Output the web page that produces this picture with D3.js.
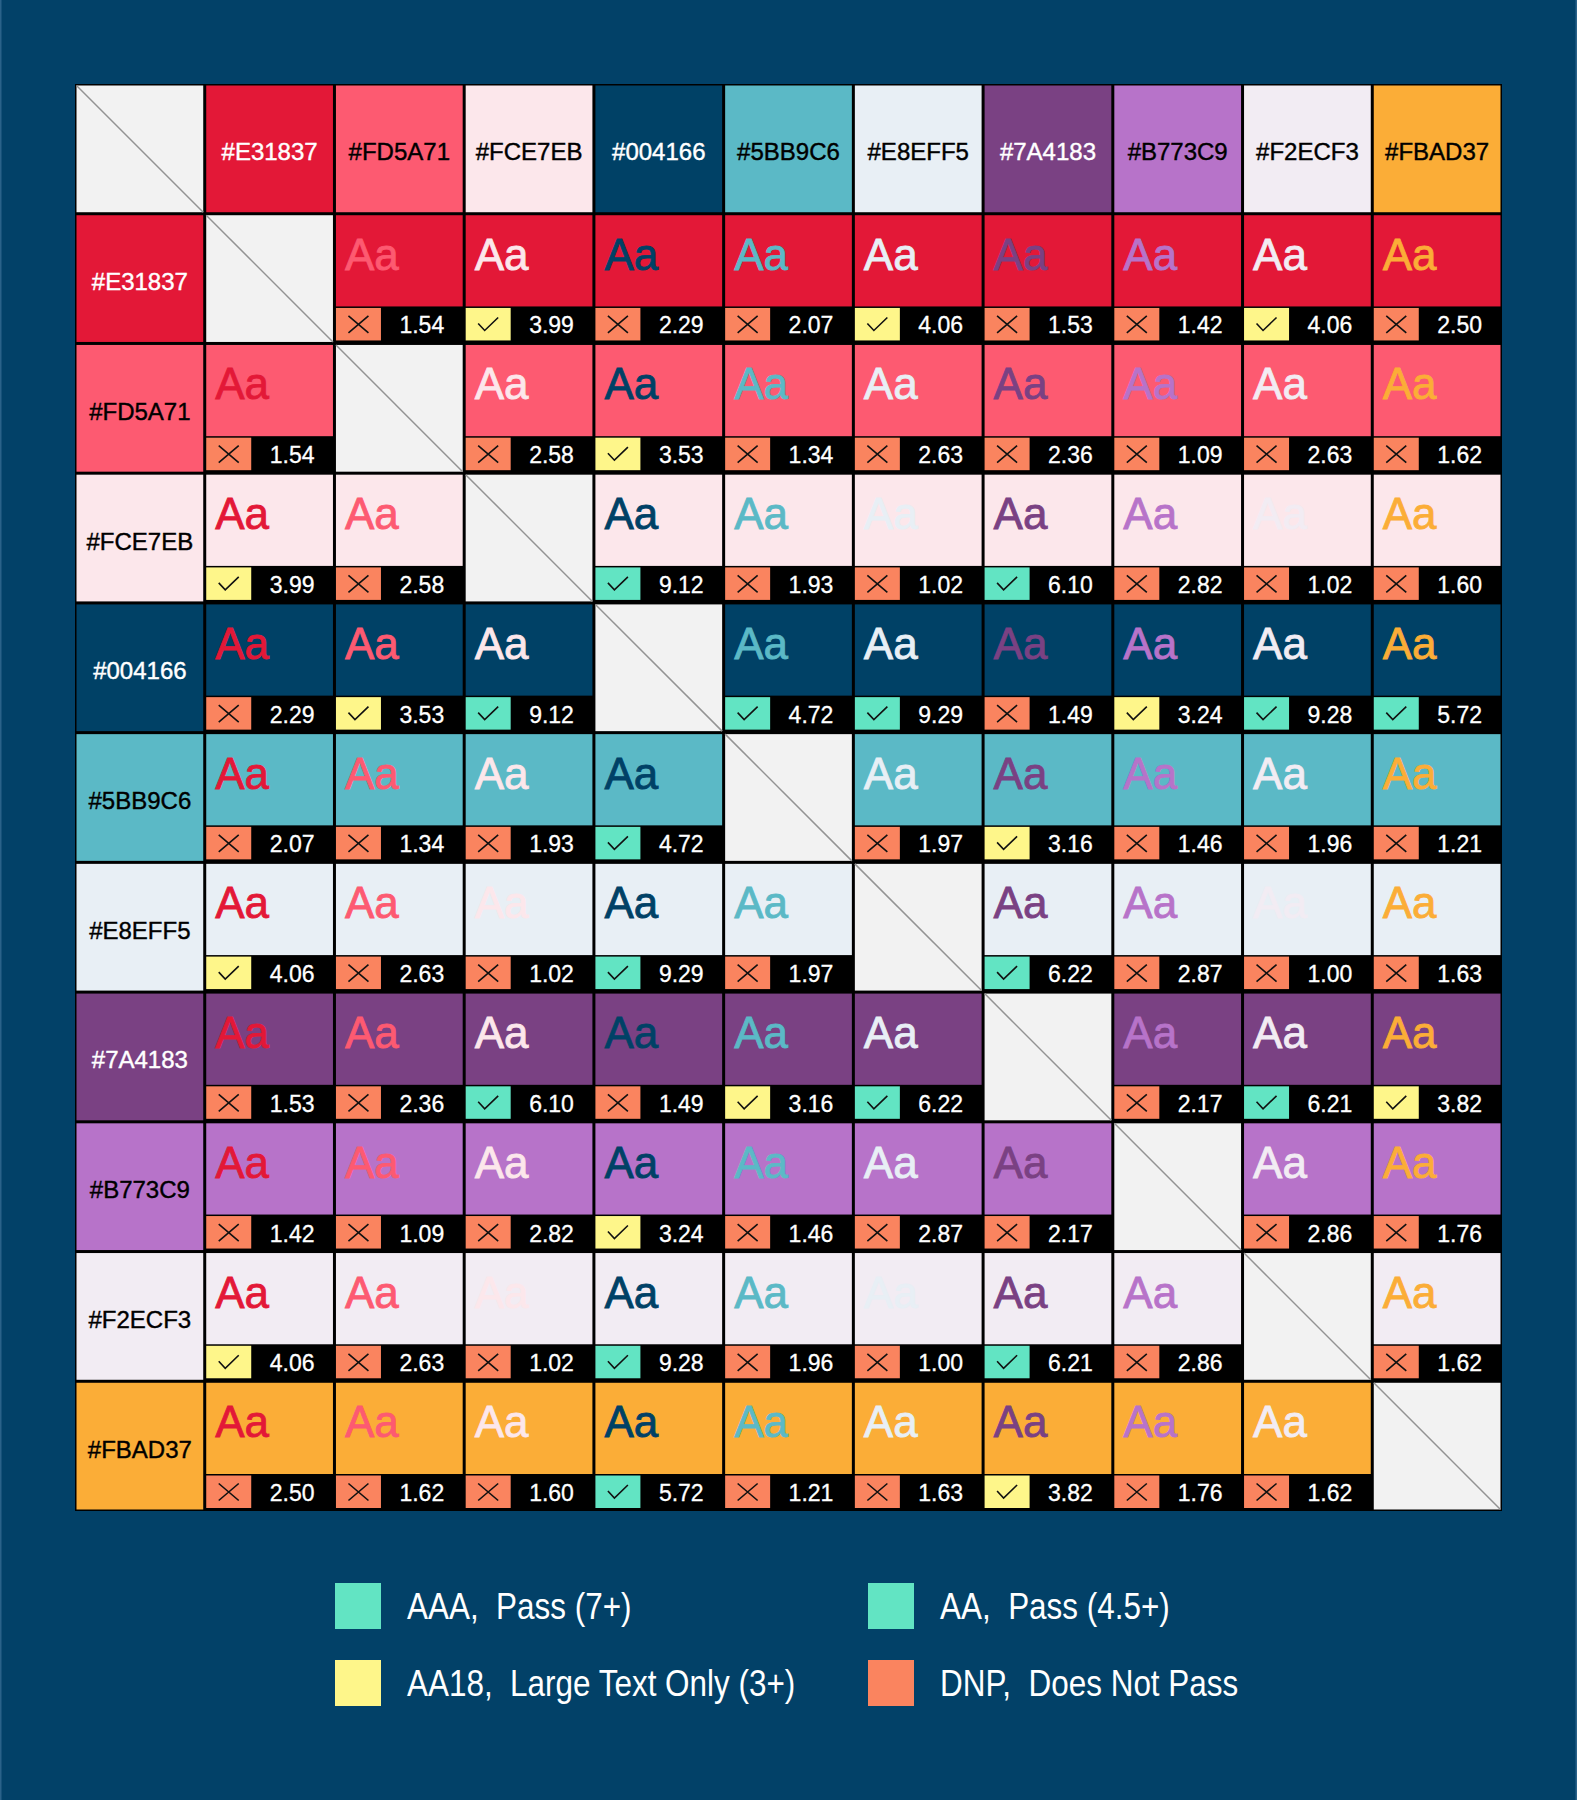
<!DOCTYPE html>
<html>
<head>
    <meta http-equiv="Content-Type" content="text/html;charset=utf-8">
    <script src="https://d3js.org/d3.v7.min.js"></script>
    <style>
        html, body {
            margin: 0;
            padding: 0;
            background: #024168;
            font-family: "Liberation Sans", Arial, sans-serif;
        }
        svg { display: block; }
        .legend text { white-space: pre; }
    </style>
</head>
<body>
<div id="chart"></div>
<script>
    // palette under test (rows = background, columns = text colour)
    var swatches = ["#E31837", "#FD5A71", "#FCE7EB", "#004166", "#5BB9C6",
                    "#E8EFF5", "#7A4183", "#B773C9", "#F2ECF3", "#FBAD37"];

    // contrast ratios, read row by row (null on the diagonal)
    var ratios = [
        [null, 1.54, 3.99, 2.29, 2.07, 4.06, 1.53, 1.42, 4.06, 2.50],
        [1.54, null, 2.58, 3.53, 1.34, 2.63, 2.36, 1.09, 2.63, 1.62],
        [3.99, 2.58, null, 9.12, 1.93, 1.02, 6.10, 2.82, 1.02, 1.60],
        [2.29, 3.53, 9.12, null, 4.72, 9.29, 1.49, 3.24, 9.28, 5.72],
        [2.07, 1.34, 1.93, 4.72, null, 1.97, 3.16, 1.46, 1.96, 1.21],
        [4.06, 2.63, 1.02, 9.29, 1.97, null, 6.22, 2.87, 1.00, 1.63],
        [1.53, 2.36, 6.10, 1.49, 3.16, 6.22, null, 2.17, 6.21, 3.82],
        [1.42, 1.09, 2.82, 3.24, 1.46, 2.87, 2.17, null, 2.86, 1.76],
        [4.06, 2.63, 1.02, 9.28, 1.96, 1.00, 6.21, 2.86, null, 1.62],
        [2.50, 1.62, 1.60, 5.72, 1.21, 1.63, 3.82, 1.76, 1.62, null]
    ];

    // WCAG levels
    var levelNames = ["AAA,  Pass (7+)", "AA,  Pass (4.5+)", "AA18,  Large Text Only (3+)", "DNP,  Does Not Pass"];
    var levelMin = [7, 4.5, 3, 0];
    var levelColors = ["#62E4C3", "#62E4C3", "#FEF68A", "#FA845F"];

    var width = 1577, height = 1800;

    var svg = d3.select("#chart").append("svg")
        .attr("width", width)
        .attr("height", height);

    svg.append("rect").attr("width", width).attr("height", height).attr("fill", "#024168");
    // faint frame at page edges
    svg.append("rect").attr("x", 0).attr("width", 1.5).attr("height", height).attr("fill", "#2a6289");
    svg.append("rect").attr("x", width - 1.5).attr("width", 1.5).attr("height", height).attr("fill", "#2a6289");

    var keys = ["hdr"].concat(swatches);
    var x = d3.scaleBand().domain(keys).range([75, 1502]);
    var y = d3.scaleBand().domain(keys).range([84, 1511]);
    var cw = x.bandwidth(), ch = y.bandwidth();
    var gap = 1.5, barH = 37, boxW = 45;

    var levelOf = function (v) {
        for (var i = 0; i < levelMin.length; i++) {
            if (v >= levelMin[i]) return i;
        }
        return levelMin.length - 1;
    };
    var inkFor = function (c) {
        return d3.lab(c).l < 55 ? "#fff" : "#000";
    };

    var grid = svg.append("g").attr("class", "grid");
    grid.append("rect")
        .attr("x", x.range()[0]).attr("y", y.range()[0])
        .attr("width", x.range()[1] - x.range()[0])
        .attr("height", y.range()[1] - y.range()[0])
        .attr("fill", "#000");

    var cells = [];
    keys.forEach(function (rk, r) {
        keys.forEach(function (ck, c) {
            cells.push({r: r, c: c, row: rk, col: ck});
        });
    });

    var cell = grid.selectAll("g.cell")
        .data(cells)
        .enter().append("g")
        .attr("class", "cell")
        .attr("transform", function (d) {
            return "translate(" + x(d.col) + "," + y(d.row) + ")";
        });

    // blank cells (corner + diagonal)
    var blank = cell.filter(function (d) { return d.r === d.c; });
    blank.append("rect")
        .attr("x", gap).attr("y", gap)
        .attr("width", cw - 2 * gap).attr("height", ch - 2 * gap)
        .attr("fill", "#F2F2F2");
    blank.append("line")
        .attr("x1", gap).attr("y1", gap)
        .attr("x2", cw - gap).attr("y2", ch - gap)
        .attr("stroke", "#939393")
        .attr("stroke-width", 1.5);

    // header cells
    var header = cell.filter(function (d) { return (d.r === 0) !== (d.c === 0); });
    header.append("rect")
        .attr("x", gap).attr("y", gap)
        .attr("width", cw - 2 * gap).attr("height", ch - 2 * gap)
        .attr("fill", function (d) { return d.r === 0 ? d.col : d.row; });
    header.append("text")
        .attr("x", cw / 2).attr("y", ch / 2 + 3)
        .attr("text-anchor", "middle")
        .attr("dominant-baseline", "central")
        .attr("font-size", 24)
        .attr("fill", function (d) { return inkFor(d.r === 0 ? d.col : d.row); })
        .attr("stroke", function (d) { return inkFor(d.r === 0 ? d.col : d.row); })
        .attr("stroke-width", 0.4)
        .text(function (d) { return d.r === 0 ? d.col : d.row; });

    // pair cells
    var pair = cell.filter(function (d) { return d.r > 0 && d.c > 0 && d.r !== d.c; })
        .each(function (d) {
            d.ratio = ratios[d.r - 1][d.c - 1];
            d.level = levelOf(d.ratio);
        });
    pair.append("rect")
        .attr("x", gap).attr("y", gap)
        .attr("width", cw - 2 * gap).attr("height", ch - barH - gap)
        .attr("fill", function (d) { return d.row; });
    pair.append("text")
        .attr("x", 10.5).attr("y", 56)
        .attr("font-size", 44)
        .attr("fill", function (d) { return d.col; })
        .attr("stroke", function (d) { return d.col; })
        .attr("stroke-width", 0.8)
        .text("Aa");
    pair.append("rect")
        .attr("x", gap).attr("y", ch - barH + 1.5)
        .attr("width", boxW).attr("height", barH - 4.5)
        .attr("fill", function (d) { return levelColors[d.level]; });
    pair.append("path")
        .attr("transform", "translate(" + (gap + boxW / 2) + "," + (ch - barH / 2 - 0.5) + ")")
        .attr("d", function (d) {
            return d.level === 3
                ? "M-10,-8.5L10,8.5M10,-8.5L-10,8.5"
                : "M-10,-1L-3.5,6L10,-7";
        })
        .attr("fill", "none")
        .attr("stroke", "#111")
        .attr("stroke-width", 1.6);
    pair.append("text")
        .attr("x", (gap + boxW + cw - gap) / 2)
        .attr("y", ch - 10)
        .attr("text-anchor", "middle")
        .attr("font-size", 23)
        .attr("fill", "#fff")
        .attr("stroke", "#fff")
        .attr("stroke-width", 0.3)
        .text(function (d) { return d.ratio.toFixed(2); });

    // legend
    var lx = d3.scaleOrdinal().domain([0, 1]).range([335, 868]);
    var ly = d3.scaleOrdinal().domain([0, 1]).range([1583, 1660]);
    var legend = svg.append("g").attr("class", "legend")
        .selectAll("g")
        .data(levelNames)
        .enter().append("g")
        .attr("transform", function (d, i) {
            return "translate(" + lx(i % 2) + "," + ly(Math.floor(i / 2)) + ")";
        });
    legend.append("rect")
        .attr("width", 46).attr("height", 46)
        .attr("fill", function (d, i) { return levelColors[i]; });
    legend.append("text")
        .attr("transform", "translate(72,23) scale(0.85,1)")
        .attr("dominant-baseline", "central")
        .attr("font-size", 37)
        .attr("fill", "#fff")
        .text(function (d) { return d; });
</script>
</body>
</html>
